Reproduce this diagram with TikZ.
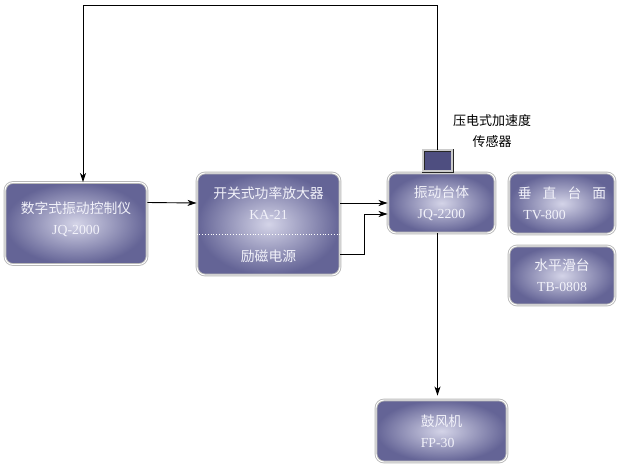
\documentclass[tikz,border=0pt]{standalone}
\usepackage{fontspec}
\setmainfont{Liberation Serif}
\newfontfamily\cjk{Noto Sans CJK SC}
\usetikzlibrary{arrows.meta,positioning}
\definecolor{boxedge}{RGB}{100,100,150}
\definecolor{boxmid}{RGB}{212,212,232}
\definecolor{boxtext}{RGB}{242,242,250}
\definecolor{sensorfill}{RGB}{78,78,128}
\tikzset{
  unit/.style = {rectangle, rounded corners=8pt, align=center,
    inner color=boxmid, outer color=boxedge, text=boxtext,
    draw=gray!55, double=white, double distance=0.9pt,
    font=\fontsize{13.8}{21}\selectfont},% box of the test rig
  label/.style = {align=center, text=boxtext,
    font=\fontsize{13.8}{21}\selectfont},% text laid on a box
  sensorbox/.style = {rectangle, draw=black!85, double=gray!40,
    double distance=1.2pt, fill=sensorfill,
    minimum width=29pt, minimum height=21pt},% accelerometer
  note/.style = {align=center, font=\cjk\fontsize{13}{21}\selectfont}% sensor caption
}

\begin{document}
\begin{tikzpicture}[x=1pt,y=-1pt,->,>={Stealth[length=9pt,width=6pt,inset=2.5pt]},line width=0.9pt]
\useasboundingbox (0,0) rectangle (625,472);

\node [unit, minimum width=142, minimum height=82] (ctrl) at (76,223.5) {};
\node [label] (ctrltxt) at (76,219) {{\cjk 数字式振动控制仪}\\JQ-2000};
\node [unit, minimum width=143, minimum height=102] (amp) at (268.5,224) {};
\node [label] (amptop) at (268.5,203.5) {{\cjk 开关式功率放大器}\\KA-21};
\node [label] (ampbot) at (268.5,256) {\cjk 励磁电源};
\draw [-, white, dotted, line width=0.8pt] ([yshift=-10pt]amp.west) -- ([yshift=-10pt]amp.east);
\node [unit, minimum width=107, minimum height=60] (table) at (441.5,203)
  {{\cjk 振动台体}\\JQ-2200};
\node [sensorbox] (sensor) at (437.5,160.5) {};
\node [note] (sensortxt) at (492,131) {压电式加速度\\传感器};
\node [unit, align=left, minimum width=106, minimum height=61] (vert) at (562,203.5)
  {{\cjk 垂\hspace{0.8em}直\hspace{0.8em}台\hspace{0.8em}面}\\\hspace{0.4em}TV-800};
\node [unit, minimum width=106, minimum height=59] (horiz) at (562,275.5)
  {{\cjk 水平滑台}\\TB-0808};
\node [unit, align=left, minimum width=131, minimum height=62] (fan) at (441.5,431)
  {{\cjk 鼓风机}\\FP-30};

\draw (sensor.north) -- ++(0,-144) -| ([xshift=7pt]ctrl.north);
\draw ([yshift=21pt]ctrl.east) -- ([yshift=21pt]amp.west);
\draw ([yshift=21pt]amp.east) -- ([yshift=21pt]amp.east -| table.west);
\draw ([yshift=-30pt]amp.east) -- ++(24,0) |- ([yshift=-11pt]table.west);
\draw (table.south -| sensor.south) -- ([yshift=4pt]fan.north -| sensor.south);
\end{tikzpicture}
\end{document}
